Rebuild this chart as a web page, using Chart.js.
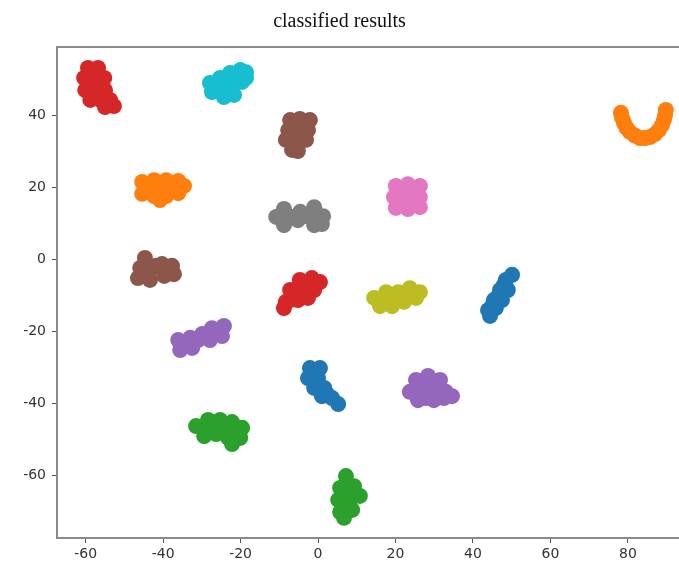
<!DOCTYPE html>
<html>
<head>
    <title>classified results</title>
    <script src="https://cdn.jsdelivr.net/npm/chart.js"></script>
    <style>
        html, body { margin: 0; padding: 0; background: #fff; overflow: hidden; }
        #wrap { width: 679px; height: 570px; }
    </style>
</head>
<body>
<div id="wrap"><canvas id="scatterChart" width="679" height="570"></canvas></div>

<script>
    // cluster points [x, y]
    const redTop = [[-59.4, 53.1], [-56.8, 53.1], [-60.4, 50.3], [-57.8, 50.3], [-55.2, 50.3], [-60.1, 46.9], [-57.6, 46.9], [-55.0, 46.9], [-58.8, 44.2], [-56.3, 44.2], [-53.7, 44.2], [-55.0, 42.2], [-52.7, 42.5],
        [-58.3, 48.6], [-55.7, 48.6], [-57.0, 45.6], [-54.5, 43.1], [-58.3, 51.7]];
    const cyan = [[-27.9, 48.9], [-25.3, 50.3], [-22.7, 51.7], [-20.1, 52.5], [-18.6, 51.9], [-27.4, 46.4], [-24.8, 46.9], [-22.2, 48.1], [-19.6, 49.2], [-18.6, 50.3], [-24.3, 45.0], [-21.7, 45.6],
        [-23.7, 49.2], [-21.2, 50.3], [-26.3, 48.1], [-23.2, 46.4]];
    const brownTop = [[-7.2, 38.6], [-4.7, 38.9], [-2.1, 38.6], [-7.7, 35.8], [-5.2, 35.8], [-2.6, 35.8], [-8.3, 33.1], [-5.7, 33.1], [-3.1, 33.1], [-6.7, 30.3], [-5.2, 30.0],
        [-5.7, 37.2], [-3.9, 34.4], [-6.5, 31.9]];
    const gray = [[-8.8, 11.7], [-10.8, 11.7], [-6.7, 11.7], [-8.8, 13.9], [-8.8, 9.4], [-1.0, 11.9], [-3.4, 11.9], [1.3, 11.9], [-1.0, 14.4], [-1.0, 9.4], [1.0, 9.7], [-5.2, 10.8], [-4.6, 13.1]];
    const pink = [[20.1, 20.3], [23.2, 20.8], [26.3, 20.3], [19.6, 17.2], [22.7, 17.2], [26.3, 17.2], [20.1, 14.2], [23.2, 13.9], [26.3, 14.4],
        [21.7, 18.6], [24.8, 18.6], [21.7, 15.6], [24.8, 15.6]];
    const orangeLeft = [[-45.4, 21.4], [-42.3, 21.9], [-39.2, 21.9], [-36.1, 21.7], [-34.6, 20.3], [-45.4, 18.1], [-42.3, 17.5], [-39.2, 17.5], [-36.1, 18.3], [-40.8, 16.4],
        [-43.9, 19.7], [-40.8, 19.7], [-37.7, 19.7]];
    const orangeU = [[78.2, 40.6], [78.5, 39.2], [79.0, 37.8], [79.6, 36.5], [80.5, 35.3], [81.8, 34.3], [83.1, 33.6], [84.4, 33.6], [85.7, 33.9], [87.0, 34.7], [88.0, 35.8], [88.8, 37.2], [89.3, 38.6], [89.6, 40.0], [89.8, 41.4]];
    const brownLeft = [[-44.7, 0.3], [-45.9, -2.5], [-42.8, -2.5], [-46.5, -5.3], [-43.4, -5.8], [-40.3, -1.4], [-37.7, -1.9], [-39.7, -4.7], [-37.2, -4.2],
        [-44.4, -3.6], [-41.8, -1.9], [-39.2, -3.1]];
    const redMid = [[-4.7, -5.8], [-1.6, -5.3], [0.5, -6.4], [-7.2, -8.6], [-4.1, -8.6], [-1.0, -8.6], [-8.3, -11.9], [-5.2, -11.4], [-2.6, -10.8], [-8.8, -13.6],
        [-5.7, -10.0], [-2.6, -7.2], [-7.2, -11.4]];
    const olive = [[14.5, -10.8], [17.6, -9.2], [20.7, -9.2], [23.7, -8.1], [26.3, -9.2], [16.0, -13.1], [19.1, -13.1], [22.2, -11.9], [25.3, -10.8],
        [17.5, -11.4], [20.6, -11.4], [23.7, -10.0]];
    const blueRight = [[50.1, -4.4], [48.5, -5.8], [49.0, -8.6], [47.0, -8.6], [47.5, -11.4], [45.4, -11.4], [45.9, -13.6], [43.9, -14.2], [44.4, -15.8],
        [48.0, -7.2], [46.5, -10.3], [44.9, -13.1]];
    const purpleLeft = [[-36.1, -22.5], [-33.0, -21.9], [-35.6, -25.3], [-32.5, -24.7], [-29.9, -20.8], [-27.4, -19.2], [-24.3, -18.6], [-27.9, -22.5], [-24.8, -21.4],
        [-34.1, -23.6], [-31.0, -22.5], [-28.9, -20.8], [-26.3, -20.3]];
    const blueMid = [[-2.1, -30.3], [0.5, -30.3], [-2.6, -33.1], [0.0, -33.1], [-1.0, -35.8], [1.6, -35.8], [1.0, -38.1], [3.6, -38.6], [5.2, -40.3],
        [-1.0, -31.7], [-0.5, -34.4], [2.3, -37.5]];
    const purpleRight = [[25.3, -33.6], [28.4, -32.5], [31.5, -33.6], [23.7, -36.9], [26.8, -36.9], [29.9, -36.9], [33.0, -36.9], [34.6, -38.1], [25.8, -39.2], [29.9, -39.2],
        [28.4, -35.3], [31.5, -35.8], [25.3, -35.8], [27.9, -38.6], [32.5, -38.6]];
    const greenLeft = [[-31.5, -46.4], [-28.4, -44.7], [-25.3, -44.7], [-22.2, -45.3], [-19.6, -46.9], [-29.4, -49.2], [-26.3, -48.6], [-23.2, -49.7], [-20.1, -49.7], [-22.2, -51.4],
        [-29.9, -46.9], [-26.8, -46.7], [-23.7, -46.9], [-21.2, -48.1]];
    const greenLow = [[7.2, -60.3], [5.7, -63.6], [9.3, -63.1], [5.2, -66.9], [8.3, -66.9], [10.8, -65.8], [5.7, -70.3], [8.8, -69.7], [6.7, -71.9],
        [7.2, -62.5], [7.2, -65.6], [6.7, -68.6], [9.3, -65.3]];

    const clusters = [redTop, cyan, brownTop, gray, pink, orangeLeft, orangeU, brownLeft, redMid, olive, blueRight, purpleLeft, blueMid, purpleRight, greenLeft, greenLow];
    const clusterColors = ['#d62728', '#17becf', '#8c564b', '#7f7f7f', '#e377c2', '#ff7f0e', '#ff7f0e', '#8c564b', '#d62728', '#bcbd22', '#1f77b4', '#9467bd', '#1f77b4', '#9467bd', '#2ca02c', '#2ca02c'];

    const xRange = [-67.4, 93.2];
    const yRange = [-77.5, 58.9];

    // draws the top frame line (matplotlib box)
    const topFrame = {
        id: 'topFrame',
        afterDraw(chart) {
            const a = chart.chartArea;
            const ctx = chart.ctx;
            ctx.save();
            ctx.strokeStyle = '#8a8a8a';
            ctx.lineWidth = 2;
            ctx.beginPath();
            ctx.moveTo(a.left - 1, a.top);
            ctx.lineTo(a.right, a.top);
            ctx.stroke();
            ctx.restore();
        }
    };

    const ctx = document.getElementById('scatterChart').getContext('2d');
    new Chart(ctx, {
        type: 'scatter',
        data: {
            datasets: clusters.map((pts, i) => ({
                data: pts.map(p => ({ x: p[0], y: p[1] })),
                backgroundColor: clusterColors[i],
                borderColor: clusterColors[i],
                pointBackgroundColor: clusterColors[i],
                pointBorderWidth: 0,
                pointRadius: 8,
                pointHoverRadius: 8
            }))
        },
        options: {
            responsive: false,
            animation: false,
            layout: { autoPadding: false, padding: 0 },
            plugins: {
                legend: { display: false },
                tooltip: { enabled: false },
                title: {
                    display: true,
                    text: 'classified results',
                    color: '#111',
                    font: { family: 'Liberation Serif', size: 20, weight: 'normal' },
                    padding: { top: 10, bottom: 13 }
                }
            },
            scales: {
                x: {
                    type: 'linear',
                    min: xRange[0],
                    max: xRange[1],
                    afterFit: s => { s.height = 32; },
                    border: { display: true, color: '#8a8a8a', width: 2 },
                    grid: { display: true, drawOnChartArea: false, drawTicks: true, tickLength: 5, color: '#555' },
                    ticks: {
                        stepSize: 20,
                        includeBounds: false,
                        color: '#333',
                        padding: 3,
                        font: { family: 'DejaVu Sans', size: 14 }
                    }
                },
                y: {
                    type: 'linear',
                    min: yRange[0],
                    max: yRange[1],
                    afterFit: s => { s.width = 57; },
                    border: { display: true, color: '#8a8a8a', width: 2 },
                    grid: { display: true, drawOnChartArea: false, drawTicks: true, tickLength: 5, color: '#555' },
                    ticks: {
                        stepSize: 20,
                        includeBounds: false,
                        color: '#333',
                        padding: 6,
                        font: { family: 'DejaVu Sans', size: 14 }
                    }
                }
            }
        },
        plugins: [topFrame]
    });
</script>
</body>
</html>
